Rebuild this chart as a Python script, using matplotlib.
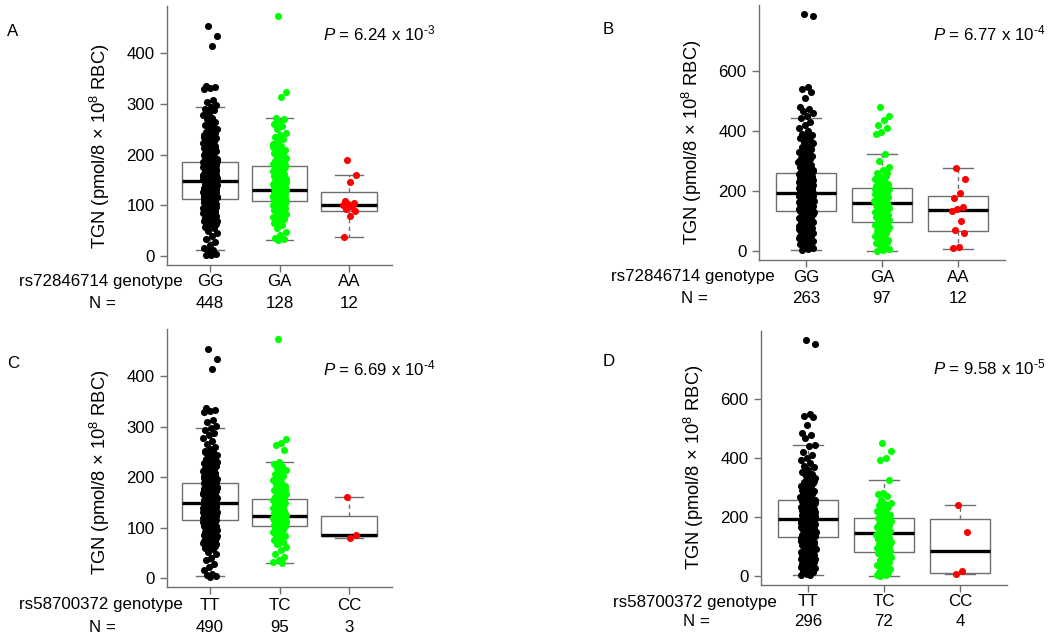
import numpy as np
import matplotlib
matplotlib.use("Agg")
import matplotlib.pyplot as plt
from matplotlib.transforms import blended_transform_factory

plt.rcParams['font.family'] = ['Liberation Sans', 'DejaVu Sans']
plt.rcParams['mathtext.fontset'] = 'custom'
plt.rcParams['mathtext.rm'] = 'Liberation Sans'
plt.rcParams['mathtext.it'] = 'Liberation Sans:italic'
plt.rcParams['mathtext.bf'] = 'Liberation Sans:bold'

# ---------------- data ----------------
snp_A = "rs72846714"
snp_C = "rs58700372"
genos_A = ["GG", "GA", "AA"]
genos_C = ["TT", "TC", "CC"]
n_A = [448, 128, 12]
n_B = [263, 97, 12]
n_C = [490, 95, 3]
n_D = [296, 72, 4]
p_A = ("6.24", "-3")
p_B = ("6.77", "-4")
p_C = ("6.69", "-4")
p_D = ("9.58", "-5")

# box stats: (whislo, q1, med, q3, whishi)
box_A = [(11, 113, 147, 186, 293), (32, 109, 130, 177, 273), (38, 88, 100, 127, 159)]
box_B = [(2, 132, 193, 259, 441), (0, 95, 159, 208, 323), (6, 65, 134, 182, 276)]
box_C = [(3, 114, 149, 188, 298), (30, 104, 123, 156, 230), (80, 84, 86, 122, 160)]
box_D = [(2, 132, 193, 256, 444), (0, 81, 144, 197, 324), (6, 10, 82, 192, 241)]

A_GG = [453, 433, 414, 336, 334, 332, 330, 308, 303, 298,
        293, 290, 287, 282, 277, 273, 270, 265, 262, 258, 255, 252, 250, 247, 245, 243, 241, 239,
        237, 235, 233, 231, 229, 227, 225, 223, 221, 219, 217, 215, 213, 211, 209, 207, 205, 204,
        202, 200, 199, 197, 196, 194, 193, 191, 190, 189, 188, 187,
        186, 185, 184, 183, 182, 181, 180, 179, 178, 177, 176, 175, 174, 173, 172, 171, 170, 169,
        168, 167, 166, 165, 164, 163, 162, 161, 160, 159, 158, 157, 156, 155, 154, 153, 152, 151,
        150, 149, 148, 147, 184, 178, 172, 166, 160, 154,
        146, 145, 144, 143, 142, 141, 140, 139, 138, 137, 136, 135, 134, 133, 132, 131, 130, 129,
        128, 127, 126, 125, 124, 123, 122, 121, 120, 119, 118, 117, 116, 115, 114, 113, 143, 137,
        131, 125, 119, 140, 128, 116,
        112, 111, 110, 108, 107, 105, 104, 102, 101, 99, 98, 96, 94, 93, 91, 89, 87, 85, 83, 81,
        79, 77, 75, 73, 71, 69, 67, 65, 63, 61, 58, 55, 50, 45, 40, 33, 28, 22, 16, 11, 9, 4, 2, 1,
        248, 244, 236, 228, 222, 214, 208, 203, 198, 195, 192, 189, 186, 183, 181, 179, 176, 174,
        171, 169, 167, 164, 162, 159, 157, 155, 152, 150, 148, 146, 144, 142, 140, 138, 136, 134,
        132, 130, 128, 126, 124, 122, 120, 118, 116, 114, 112, 110, 108, 106, 103, 100, 97, 95, 92,
        90, 87, 84, 82, 80, 78, 76, 74, 72, 70, 68, 66, 64, 62, 60, 175, 165, 155, 145, 135, 125,
        115, 105, 185, 195, 205, 215, 225, 235, 170, 160, 150, 141, 133, 127, 121, 117, 111, 95, 86,
        74]
A_GA = [474, 323, 313, 273, 270, 265, 260, 256, 250, 243, 238, 234, 230, 226, 220, 216, 212, 209,
        205, 202, 199, 196, 193, 190, 188, 185, 183, 181, 179, 178, 176, 175, 173, 171, 169, 167,
        165, 163, 161, 159, 157, 155, 153, 151, 149, 147, 145, 143, 141, 139, 137, 136, 135, 133,
        132, 131, 130, 129, 128, 127, 126, 125, 124, 123, 122, 121, 120, 119, 118, 117, 116, 115,
        114, 113, 112, 111, 110, 109, 108, 106, 104, 102, 100, 98, 96, 94, 92, 90, 88, 85, 82, 79,
        76, 72, 68, 64, 60, 55, 48, 42, 36, 33, 31,
        215, 200, 190, 180, 172, 165, 158, 152, 146, 140, 134, 129, 124, 119, 114, 110, 105, 100,
        95, 89, 83, 76, 70, 62]
A_AA = [190, 159, 145, 109, 104, 102, 100, 97, 92, 88, 79, 38]

B_GG = [787, 782, 544, 538, 530, 508, 480, 472, 466, 458, 450, 441, 430, 420, 408, 398, 390, 385,
        378, 374, 368, 362, 357, 350, 346, 340, 335, 330, 325, 320, 316, 312, 308, 304, 300, 296,
        292, 288, 284, 280, 277, 274, 271, 268, 265, 262, 260,
        258, 255, 252, 250, 247, 245, 242, 240, 237, 235, 232, 230, 228, 225, 223, 221, 219, 217,
        215, 213, 211, 209, 207, 205, 203, 201, 199, 197, 195, 194,
        192, 190, 188, 186, 184, 182, 180, 178, 176, 174, 172, 170, 168, 166, 164, 162, 160, 158,
        156, 154, 152, 150, 148, 146, 144, 142, 140, 138, 136, 134, 133,
        131, 128, 125, 122, 119, 116, 113, 110, 107, 104, 101, 98, 95, 92, 89, 86, 83, 80, 77, 74,
        71, 68, 65, 62, 59, 56, 53, 50, 46, 42, 38, 34, 30, 26, 22, 17, 12, 8, 5, 2,
        340, 318, 302, 290, 278, 266, 256, 248, 241, 234, 227, 220, 214, 208, 202, 196, 191, 187,
        183, 179, 175, 171, 167, 163, 159, 155, 151, 147, 143, 139, 135, 130, 126, 121, 117, 112,
        108, 103, 99, 94, 90, 85, 81, 76, 72, 67, 63, 58, 54, 49, 44, 39, 33, 28, 24, 20]
B_GA = [478, 449, 435, 419, 408, 396, 388, 323, 300, 279, 268, 257, 250, 246, 240, 234, 228, 222,
        218, 214, 210, 207, 204, 200, 197, 194, 191, 188, 185, 182, 179, 176, 173, 170, 167, 164,
        161, 159, 157, 155, 152, 149, 146, 143, 140, 137, 134, 131, 128, 125, 122, 119, 116, 113,
        110, 106, 102, 98, 95, 92, 88, 84, 80, 76, 72, 68, 64, 60, 55, 50, 45, 40, 35, 30, 24, 18,
        12, 6, 2, 0,
        260, 230, 205, 185, 165, 150, 135, 120, 108, 93, 78, 62, 45, 28]
B_AA = [276, 239, 193, 176, 145, 140, 132, 97, 67, 59, 13, 7]

C_TT = [455, 434, 415, 337, 334, 331, 329, 313, 309, 302,
        298, 293, 288, 283, 278, 272, 266, 260, 256, 252, 249, 246, 243, 240, 237, 234, 231, 228,
        226, 224, 222, 220, 218, 216, 214, 212, 210, 208, 206, 204, 202, 200, 198, 196, 195, 193,
        192, 190, 189,
        188, 187, 186, 185, 184, 183, 182, 181, 180, 179, 178, 177, 176, 175, 174, 173, 172, 171,
        170, 169, 168, 167, 166, 165, 164, 163, 162, 161, 160, 159, 158, 157, 156, 155, 154, 153,
        152, 151, 150, 149, 185, 179, 171, 163, 155,
        148, 147, 146, 145, 144, 143, 142, 141, 140, 139, 138, 137, 136, 135, 134, 133, 132, 131,
        130, 129, 128, 127, 126, 125, 124, 123, 122, 121, 120, 119, 118, 117, 116, 115, 114, 145,
        139, 133, 127, 121,
        113, 112, 110, 109, 107, 106, 104, 103, 101, 99, 97, 95, 93, 91, 89, 87, 85, 83, 81, 79,
        77, 75, 73, 71, 69, 67, 65, 63, 61, 59, 57, 52, 48, 40, 35, 28, 22, 15, 8, 5, 3, 1,
        250, 245, 238, 230, 224, 216, 209, 204, 199, 196, 193, 190, 187, 184, 182, 180, 177, 175,
        172, 170, 168, 165, 163, 160, 158, 156, 153, 151, 149, 147, 145, 143, 141, 139, 137, 135,
        133, 131, 129, 127, 125, 123, 121, 119, 117, 115, 113, 111, 109, 107, 104, 101, 98, 96, 93,
        91, 88, 85, 83, 81, 79, 77, 75, 73, 71, 69, 67, 65, 63, 61, 176, 166, 156, 146, 136, 126,
        116, 106, 186, 196, 206, 216, 226, 236, 171, 161, 151, 142, 134, 128, 122, 118, 112, 96, 87,
        75]
C_TC = [475, 275, 268, 263, 253, 230, 226, 222, 218, 214, 210, 206, 202, 198, 194, 190, 186, 182,
        178, 175, 172, 169, 166, 163, 160, 158, 156, 154, 152, 150, 148, 146, 144, 142, 140, 138,
        136, 134, 132, 130, 128, 126, 125, 124, 123, 122, 121, 120, 119, 118, 117, 116, 115, 114,
        113, 112, 111, 110, 109, 108, 107, 106, 105, 104, 103, 101, 99, 97, 95, 92, 89, 86, 83, 80,
        76, 72, 67, 62, 55, 48, 42, 35, 31, 30,
        200, 175, 150, 138, 129, 120, 112, 105, 96, 85, 70]
C_CC = [160, 86, 80]

D_TT = [799, 788, 548, 542, 538, 511, 483, 477, 466, 444, 440, 420, 409, 401, 392, 383, 372, 369,
        360, 352, 345, 338, 331, 325, 319, 313, 308, 303, 298, 293, 288, 284, 280, 276, 272, 268,
        264, 260, 257,
        255, 252, 250, 247, 245, 242, 240, 237, 235, 232, 230, 228, 226, 224, 222, 220, 218, 216,
        214, 212, 210, 208, 206, 204, 202, 200, 198, 196, 194,
        192, 190, 188, 186, 184, 182, 180, 178, 176, 174, 172, 170, 168, 166, 164, 162, 160, 158,
        156, 154, 152, 150, 148, 146, 144, 142, 140, 138, 136, 134, 133,
        131, 128, 125, 122, 119, 116, 113, 110, 107, 104, 101, 98, 95, 92, 89, 86, 83, 80, 77, 74,
        71, 68, 65, 62, 59, 56, 53, 50, 46, 42, 38, 34, 30, 26, 22, 17, 11, 6, 3, 2,
        346, 322, 306, 292, 281, 269, 258, 249, 243, 236, 229, 222, 215, 209, 203, 197, 192, 188,
        184, 180, 176, 172, 168, 164, 160, 156, 152, 148, 144, 140, 136, 131, 127, 122, 118, 113,
        109, 104, 100, 95, 91, 86, 82, 77, 73, 68, 64, 59, 55, 50, 45, 40, 35, 29, 25, 19]
D_TC = [452, 423, 401, 392, 324, 281, 276, 269, 256, 248, 244, 239, 232, 227, 221, 216, 210, 205,
        199, 196, 192, 188, 184, 180, 176, 172, 168, 164, 160, 156, 152, 148, 145, 143, 141, 138,
        135, 132, 129, 126, 123, 120, 117, 114, 110, 106, 102, 98, 94, 90, 86, 82, 80, 76, 72, 67,
        62, 57, 52, 47, 42, 37, 32, 27, 22, 17, 12, 8, 5, 2, 1, 0]
D_CC = [241, 148, 14, 6]

yticks_AC = [0, 100, 200, 300, 400]
yticks_BD = [0, 200, 400, 600]

# ---------------- layout ----------------
W, H = 1050, 639
fig = plt.figure(figsize=(W / 100, H / 100), dpi=100)

def fy(y):
    return 1 - y / H

def fx(x):
    return x / W

point_colors = ["#000000", "#00FF00", "#FF0000"]
gray = "#6e6e6e"
FS = 12.2

panels = [
    dict(letter="A", rect=(167, 6, 392, 265), groups=[A_GG, A_GA, A_AA], box=box_A, ns=n_A,
         genos=genos_A, snp=snp_A, p=p_A, yticks=yticks_AC, letter_xy=(13, 32),
         p_xy=(323, 33), row1=282, row2=303, ylab=(100, 146)),
    dict(letter="B", rect=(759, 5, 1005, 260), groups=[B_GG, B_GA, B_AA], box=box_B, ns=n_B,
         genos=genos_A, snp=snp_A, p=p_B, yticks=yticks_BD, letter_xy=(608, 29),
         p_xy=(933, 33), row1=277, row2=298, ylab=(692, 142)),
    dict(letter="C", rect=(167, 329, 392, 587), groups=[C_TT, C_TC, C_CC], box=box_C, ns=n_C,
         genos=genos_C, snp=snp_C, p=p_C, yticks=yticks_AC, letter_xy=(13, 363),
         p_xy=(323, 368), row1=605, row2=627, ylab=(100, 472)),
    dict(letter="D", rect=(761, 331, 1007, 585), groups=[D_TT, D_TC, D_CC], box=box_D, ns=n_D,
         genos=genos_C, snp=snp_C, p=p_D, yticks=yticks_BD, letter_xy=(609, 362),
         p_xy=(933, 367), row1=602, row2=622, ylab=(694, 467)),
]

for pn in panels:
    x0, y0, x1, y1 = pn["rect"]
    ax = fig.add_axes([fx(x0), fy(y1), (x1 - x0) / W, (y1 - y0) / H])
    # boxes
    stats = []
    for (lo, q1, med, q3, hi) in pn["box"]:
        stats.append(dict(whislo=lo, q1=q1, med=med, q3=q3, whishi=hi, fliers=[]))
    ax.bxp(stats, positions=[1, 2, 3], widths=0.8, showfliers=False, patch_artist=True,
           boxprops=dict(facecolor="white", edgecolor=gray, linewidth=1.0),
           whiskerprops=dict(color=gray, linewidth=1.0, linestyle=(0, (3, 2.5))),
           capprops=dict(color=gray, linewidth=1.0), capwidths=0.4,
           medianprops=dict(color="black", linewidth=2.4), zorder=2)
    # points (deterministic jitter)
    allv = []
    for i, vals in enumerate(pn["groups"]):
        v = np.asarray(vals, dtype=float)
        allv.extend(vals)
        k = np.arange(len(v))
        off = 0.1 * (2 * ((k * 0.6180339887 + 0.37) % 1.0) - 1)
        ax.scatter(i + 1 + off, v, s=26, color=point_colors[i], linewidths=0, zorder=3)
    vmin, vmax = min(allv), max(allv)
    rng = vmax - vmin
    ax.set_ylim(vmin - 0.04 * rng, vmax + 0.04 * rng)
    ax.set_xlim(0.38, 3.62)
    ax.set_yticks(pn["yticks"])
    ax.set_yticklabels([str(t) for t in pn["yticks"]])
    ax.set_xticks([1, 2, 3])
    ax.set_xticklabels(["", "", ""])
    for s in ["top", "right"]:
        ax.spines[s].set_visible(False)
    for s in ["left", "bottom"]:
        ax.spines[s].set_color(gray)
        ax.spines[s].set_linewidth(1.0)
    ax.tick_params(axis="both", direction="out", length=5, width=1.0, color=gray,
                   labelsize=FS, labelcolor="black", pad=4)
    # category and N labels
    tr = blended_transform_factory(ax.transData, fig.transFigure)
    for i in range(3):
        ax.text(i + 1, fy(pn["row1"]), pn["genos"][i], transform=tr, ha="center", va="center",
                fontsize=FS, clip_on=False)
        ax.text(i + 1, fy(pn["row2"]), str(pn["ns"][i]), transform=tr, ha="center", va="center",
                fontsize=FS, clip_on=False)
    fig.text(fx(x0 + 16), fy(pn["row1"]), pn["snp"] + " genotype", ha="right", va="center",
             fontsize=FS)
    fig.text(fx(x0 - 65), fy(pn["row2"]), "N =", ha="center", va="center", fontsize=FS)
    # y label
    fig.text(fx(pn["ylab"][0]), fy(pn["ylab"][1]), r"TGN (pmol/8 × 10$^{8}$ RBC)",
             rotation=90, ha="center", va="center", fontsize=13.2)
    # panel letter
    fig.text(fx(pn["letter_xy"][0]), fy(pn["letter_xy"][1]), pn["letter"], ha="center",
             va="center", fontsize=FS)
    # P value
    mant, ex = pn["p"]
    fig.text(fx(pn["p_xy"][0]), fy(pn["p_xy"][1]),
             r"$\mathit{P}$ = " + mant + r" x 10$^{\text{" + ex + r"}}$",
             ha="left", va="center", fontsize=FS)

fig.savefig("out.png", dpi=100)
